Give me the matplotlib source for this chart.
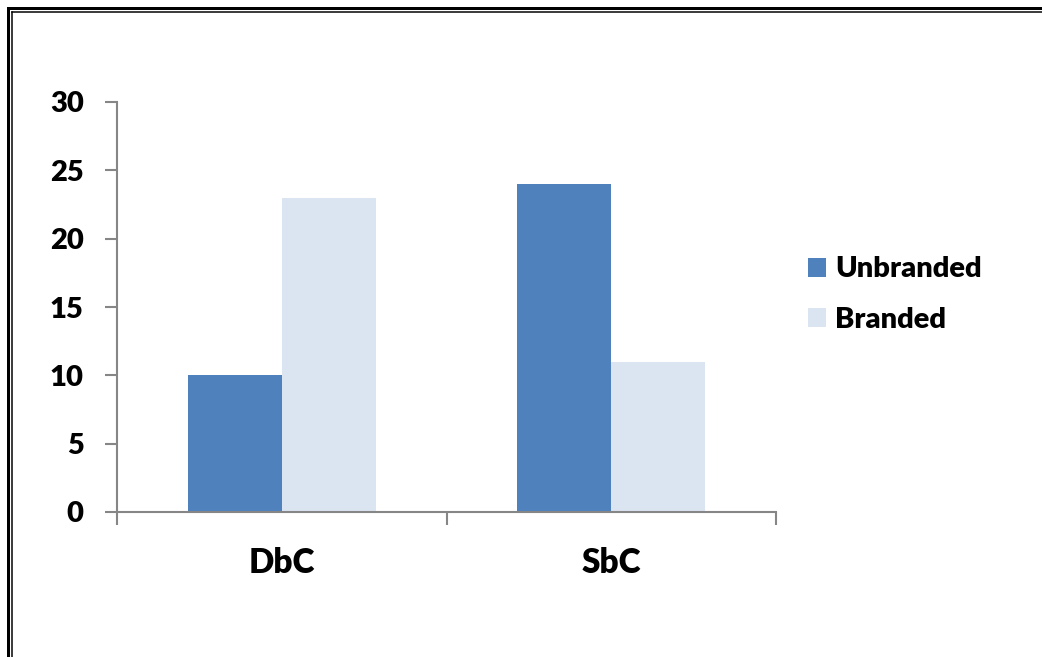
import matplotlib
matplotlib.use("Agg")
import matplotlib.pyplot as plt
from matplotlib.lines import Line2D
import numpy as np

categories = ["DbC", "SbC"]
unbranded = [10, 24]
branded = [23, 11]
yticks = [0, 5, 10, 15, 20, 25, 30]

plt.rcParams['font.family'] = ['Lato', 'DejaVu Sans']
plt.rcParams['font.weight'] = 'heavy'

W, H = 1042, 657
fig = plt.figure(figsize=(W / 100, H / 100), dpi=100)

# double border at top/left
for x, lw in [(7.5, 3.0), (11.5, 1.5)]:
    fig.add_artist(Line2D([x / W, x / W], [0, 1 - x / H], transform=fig.transFigure, color='black', lw=lw * 0.72))
    fig.add_artist(Line2D([x / W, 1], [1 - x / H, 1 - x / H], transform=fig.transFigure, color='black', lw=lw * 0.72))

ax = fig.add_axes([117 / W, 1 - 512 / H, (776 - 117) / W, (512 - 102) / H])

x = np.arange(len(categories))
bw = 0.285
ax.bar(x - bw / 2, unbranded, bw, color='#4F81BD', label='Unbranded')
ax.bar(x + bw / 2, branded, bw, color='#DBE5F1', label='Branded')

ax.set_xlim(-0.5, 1.5)
ax.set_ylim(0, 30)
ax.set_yticks(yticks)
ax.set_xticks(x)
ax.set_xticklabels(categories, fontsize=24, fontweight='heavy')
ax.set_xticks([-0.5, 0.5, 1.5], minor=True)
ax.tick_params(axis='x', which='major', length=0, pad=25)
ax.tick_params(axis='x', which='minor', length=9, width=1.5, color='#868686', direction='out')
ax.tick_params(axis='y', length=9, width=1.5, color='#868686', direction='out', labelsize=21, pad=15)
for lab in ax.get_yticklabels():
    lab.set_fontweight('heavy')

for s in ['top', 'right']:
    ax.spines[s].set_visible(False)
for s in ['left', 'bottom']:
    ax.spines[s].set_color('#868686')
    ax.spines[s].set_linewidth(1.5)

leg = fig.legend(loc='center left', bbox_to_anchor=(808 / W, 1 - 294.5 / H), frameon=False,
                 prop={'size': 21, 'weight': 'heavy'}, handlelength=0.62, handleheight=0.62,
                 labelspacing=0.83, handletextpad=0.32, borderpad=0, borderaxespad=0)

fig.savefig('out.png', dpi=100)
